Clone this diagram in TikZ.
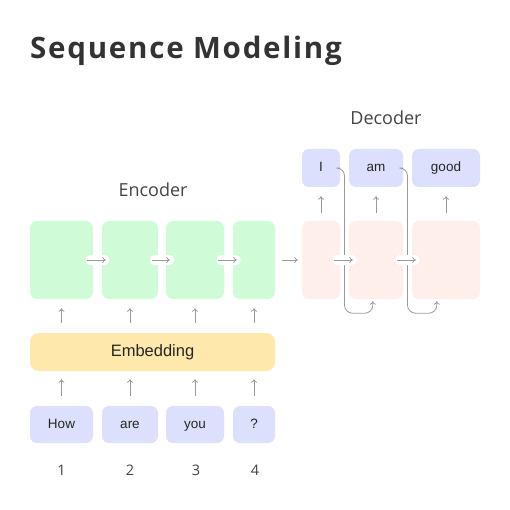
\documentclass[tikz,border=0pt]{standalone}
\usepackage{fontspec}
\setmainfont{Open Sans}
\newfontfamily\boxfont{Liberation Sans}
\newfontfamily\titlefont[LetterSpace=6]{Open Sans}
\usetikzlibrary{arrows.meta,calc}
\definecolor{encg}{HTML}{CFFCD6}
\definecolor{decp}{HTML}{FFEFEA}
\definecolor{tokb}{HTML}{DCE0FC}
\definecolor{emby}{HTML}{FEE8AB}
\definecolor{arrg}{HTML}{9A9A9A}
\definecolor{titlec}{HTML}{333333}
\definecolor{labc}{HTML}{444444}
\tikzset{
  blk/.style={rounded corners=7pt, inner sep=0pt, minimum height=78pt},
  encbox/.style={blk, fill=encg},
  decbox/.style={blk, fill=decp},
  tokbox/.style={rounded corners=7pt, inner sep=0pt, fill=tokb, minimum height=37pt,
    text height=10pt, text depth=2.5pt,
    font=\boxfont\fontsize{13.5}{16}\selectfont, text=black!85},
  embbox/.style={rounded corners=9pt, inner sep=0pt, fill=emby, minimum height=38pt,
    text height=12pt, text depth=3pt,
    font=\boxfont\fontsize{16.5}{19}\selectfont, text=black!85},
  lab/.style={font=\fontsize{18}{21}\selectfont, text=labc},
  num/.style={font=\fontsize{14.5}{17}\selectfont, text=labc},
  arr/.style={draw=arrg, line width=0.8pt, -{To[length=3.5pt,width=6pt]}},
  fb/.style={arr, rounded corners=8pt},
  pill/.style={fill=white, rounded corners=4.5pt, minimum width=24pt, minimum height=10pt, inner sep=0pt},
}
\begin{document}
\begin{tikzpicture}[x=1pt,y=-1pt]
\useasboundingbox (0,0) rectangle (510,510);
\node[anchor=base west, inner sep=0pt, font=\titlefont\bfseries\fontsize{29.5}{34}\selectfont, text=titlec] (title) at (30,58.5) {Sequence Modeling};

% encoder boxes
\node[encbox, minimum width=63pt] (E1) at (61.5,260) {};
\node[encbox, minimum width=56pt] (E2) at (130,260) {};
\node[encbox, minimum width=58pt] (E3) at (195,260) {};
\node[encbox, minimum width=42pt] (E4) at (254,260) {};
% decoder boxes
\node[decbox, minimum width=38pt] (D1) at (321,260) {};
\node[decbox, minimum width=54pt] (D2) at (376,260) {};
\node[decbox, minimum width=68pt] (D3) at (446,260) {};
% outputs
\node[tokbox, minimum width=38pt, minimum height=38pt] (O1) at (321,168) {I};
\node[tokbox, minimum width=54pt, minimum height=38pt] (O2) at (376,168) {am};
\node[tokbox, minimum width=68pt, minimum height=38pt] (O3) at (446,168) {good};
% embedding
\node[embbox, minimum width=245pt] (Emb) at (152.5,352) {Embedding};
% tokens
\node[tokbox, minimum width=63pt] (T1) at (61.5,424.5) {How};
\node[tokbox, minimum width=56pt] (T2) at (130,424.5) {are};
\node[tokbox, minimum width=58pt] (T3) at (195,424.5) {you};
\node[tokbox, minimum width=42pt] (T4) at (254,424.5) {?};
% numbers
\node[num] (N1) at (61.5,470) {1};
\node[num] (N2) at (130,470) {2};
\node[num] (N3) at (196,470) {3};
\node[num] (N4) at (255,470) {4};
% labels
\node[lab] (enc) at (153,190) {Encoder};
\node[lab] (dec) at (386,118) {Decoder};

% token -> embedding arrows
\foreach \t in {T1,T2,T3,T4}{
  \draw[arr] ([yshift=10pt]\t.north) -- ([yshift=-8pt]\t.north |- Emb.south);
  \draw[arr] ([yshift=10pt]\t.north |- Emb.north) -- ([yshift=-9pt]\t.north |- E1.south);
}
% decoder up arrows
\foreach \d/\o in {D1/O1,D2/O2,D3/O3}{
  \draw[arr] ([yshift=8pt]\d.north) -- ([yshift=-9pt]\o.south);
}
% feedback arrows
\coordinate (g1) at ($(O1.east)!.5!(O2.west)$);
\coordinate (g2) at ($(O2.east)!.5!(O3.west)$);
\draw[fb] (O1.east) -| ([yshift=-14pt]g1 |- D1.south) -| ([xshift=24pt,yshift=-2pt]D2.south west);
\draw[fb] (O2.east) -| ([yshift=-14pt]g2 |- D2.south) -| ([xshift=25pt,yshift=-2pt]D3.south west);

% horizontal arrows with pills
\foreach \a/\b in {E1/E2,E2/E3,E3/E4,D1/D2,D2/D3}{
  \node[pill] (p\a) at ($(\a.east)!.5!(\b.west)$) {};
  \draw[arr] ([xshift=-6pt]\a.east) -- ([xshift=4pt]\b.west);
}
\draw[arr] ([xshift=7pt]E4.east) -- ([xshift=-4pt]D1.west);
\end{tikzpicture}
\end{document}
